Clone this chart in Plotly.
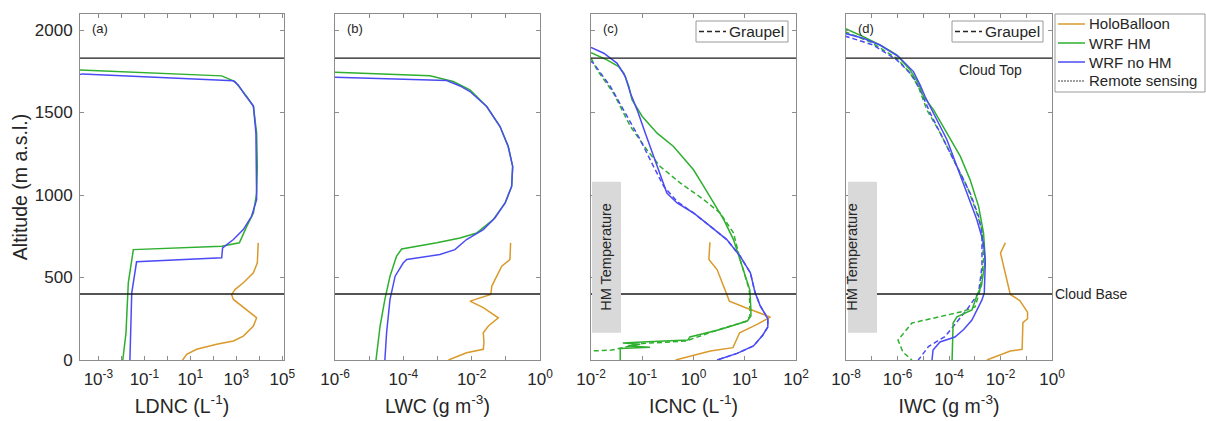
import numpy as np
import plotly.graph_objects as go

W, H = 1206, 421
FONT = "Liberation Sans, Arial, sans-serif"

# ---------------- data (log10 of quantity, altitude in m a.s.l.) ----------------
# Panel (a) LDNC (L^-1)
a_holo_alt = [710, 589, 528, 468, 427, 397, 367, 306, 256, 206, 145, 115, 95, 65, 34, 0]
a_holo_log = [3.95, 3.91, 3.74, 3.30, 2.94, 2.79, 2.87, 3.45, 3.88, 3.74, 3.30, 2.87, 2.14, 1.27, 0.84, 0.66]
a_hm_alt = [1758, 1722, 1687, 1597, 1536, 1375, 1173, 1012, 891, 810, 710, 690, 669, 468, 165, 0]
a_hm_log = [-3.85, 2.36, 2.94, 3.45, 3.74, 3.88, 3.91, 3.88, 3.74, 3.45, 3.13, 2.36, -1.48, -1.70, -1.80, -1.94]
a_nohm_alt = [1728, 1734, 1692, 1667, 1607, 1540, 1375, 1173, 972, 871, 790, 730, 679, 619, 595, 407, 165, 0]
a_nohm_log = [-3.85, -3.70, 2.87, 3.08, 3.37, 3.74, 3.85, 3.88, 3.88, 3.66, 3.30, 2.87, 2.40, 2.36, -1.34, -1.55, -1.60, -1.63]

# Panel (b) LWC (g m^-3)
b_holo_alt = [710, 609, 569, 508, 448, 397, 357, 317, 256, 206, 165, 105, 65, 44, 0]
b_holo_log = [-0.86, -0.88, -1.12, -1.27, -1.41, -1.44, -2.05, -1.66, -1.22, -1.51, -1.66, -1.64, -1.66, -2.15, -2.68]
b_hm_alt = [1744, 1722, 1688, 1637, 1536, 1415, 1294, 1173, 1052, 952, 851, 770, 740, 710, 673, 629, 508, 367, 206, 0]
b_hm_log = [-6.05, -3.22, -2.54, -2.05, -1.56, -1.17, -0.93, -0.80, -0.83, -1.02, -1.37, -1.85, -2.34, -3.02, -4.05, -4.20, -4.39, -4.54, -4.68, -4.80]
b_nohm_alt = [1714, 1694, 1661, 1627, 1536, 1415, 1294, 1173, 1052, 952, 861, 790, 730, 669, 639, 609, 589, 508, 367, 165, 0]
b_nohm_log = [-6.05, -2.73, -2.34, -2.05, -1.56, -1.17, -0.93, -0.80, -0.83, -1.02, -1.32, -1.66, -2.15, -2.49, -2.93, -3.90, -4.00, -4.24, -4.39, -4.49, -4.54]

# Panel (c) ICNC (L^-1)
c_holo_alt = [714, 609, 548, 468, 407, 357, 317, 260, 216, 165, 75, 54, 0]
c_holo_log = [0.32, 0.30, 0.46, 0.56, 0.65, 0.70, 1.02, 1.50, 1.24, 0.90, 0.77, 0.33, -0.35]
c_hm_alt = [1863, 1819, 1778, 1738, 1657, 1577, 1476, 1375, 1294, 1153, 1052, 952, 851, 730, 609, 508, 424, 303,
            266, 236, 185, 140, 121, 110, 103, 95, 85, 78, 70, 60, 30, 0]
c_hm_log = [-2.0, -1.69, -1.46, -1.36, -1.26, -1.20, -1.00, -0.71, -0.39, 0.00, 0.20, 0.39, 0.59, 0.78, 0.91, 1.01, 1.10, 1.12,
            1.12, 1.05, 0.52, -0.07, -0.11, -0.90, -1.38, -1.04, -1.28, -0.85, -1.43, -1.43, -1.43, -1.43]
c_hm_g_alt = [1829, 1758, 1617, 1415, 1274, 1173, 1073, 972, 891, 770, 609, 508, 424, 303, 266, 236, 185, 115, 100, 80, 60, 54]
c_hm_g_log = [-2.0, -1.88, -1.56, -1.23, -0.91, -0.65, -0.26, 0.20, 0.52, 0.78, 0.91, 1.01, 1.09, 1.10, 1.10, 1.04, 0.50, -0.15, -1.00, -1.30, -1.60, -2.05]
c_nohm_alt = [1895, 1859, 1798, 1718, 1617, 1516, 1375, 1173, 1012, 952, 891, 810, 730, 629, 528, 410, 330, 250, 200, 150, 85, 40, 0]
c_nohm_log = [-2.0, -1.75, -1.49, -1.33, -1.23, -1.10, -0.94, -0.71, -0.52, -0.32, 0.00, 0.33, 0.65, 0.91, 1.11, 1.20, 1.30, 1.45, 1.45, 1.35, 1.17, 0.85, 0.46]
c_nohm_g_alt = [1815, 1798, 1657, 1476, 1335, 1173, 1052, 960, 891, 810, 730, 629, 528, 410, 330, 250, 200, 150, 85, 40, 0]
c_nohm_g_log = [-2.02, -1.95, -1.62, -1.30, -1.04, -0.78, -0.58, -0.32, 0.00, 0.33, 0.65, 0.91, 1.11, 1.20, 1.30, 1.45, 1.45, 1.35, 1.17, 0.85, 0.46]

# Panel (d) IWC (g m^-3)
d_holo_alt = [710, 649, 569, 488, 397, 360, 290, 250, 226, 65, 54, 0]
d_holo_log = [-1.81, -2.00, -1.88, -1.75, -1.62, -1.25, -0.95, -0.95, -1.13, -1.16, -1.62, -2.53]
d_hm_alt = [2010, 1960, 1909, 1849, 1758, 1677, 1597, 1516, 1375, 1234, 1093, 931, 770, 609, 450, 394, 303, 261, 224, 0]
d_hm_log = [-8.05, -7.33, -6.68, -6.03, -5.51, -5.19, -4.99, -4.60, -4.08, -3.56, -3.18, -2.85, -2.66, -2.59, -2.74, -2.91, -3.11, -3.69, -3.84, -3.88]
d_hm_g_alt = [1990, 1929, 1829, 1738, 1657, 1516, 1375, 1214, 1052, 891, 790, 609, 427, 321, 293, 224, 165, 121, 48, 0]
d_hm_g_log = [-8.05, -7.07, -6.03, -5.51, -5.19, -4.86, -4.34, -3.82, -3.30, -2.92, -2.72, -2.66, -2.79, -2.99, -3.50, -5.44, -5.77, -5.98, -5.79, -5.44]
d_nohm_alt = [1980, 1950, 1909, 1839, 1748, 1667, 1597, 1496, 1335, 1173, 1012, 851, 710, 589, 407, 364, 242, 185, 139, 109, 61, 0]
d_nohm_log = [-8.05, -7.33, -6.68, -5.96, -5.38, -5.12, -4.93, -4.60, -4.08, -3.69, -3.30, -2.92, -2.66, -2.59, -2.63, -2.72, -3.11, -3.43, -3.77, -4.35, -4.62, -4.66]
d_nohm_g_alt = [1964, 1909, 1819, 1728, 1637, 1496, 1335, 1173, 1012, 871, 770, 569, 407, 306, 230, 141, 110, 81, 12, 0]
d_nohm_g_log = [-8.05, -6.94, -6.03, -5.44, -5.12, -4.73, -4.21, -3.69, -3.18, -2.85, -2.72, -2.72, -2.85, -3.30, -3.70, -4.16, -4.50, -4.80, -5.13, -5.20]

CLOUD_TOP = 1830
CLOUD_BASE = 400
HM_TOP = 1080
HM_BOTTOM = 165

panel_labels = ["(a)", "(b)", "(c)", "(d)"]
x_titles = ["LDNC (L<sup>-1</sup>)", "LWC (g m<sup>-3</sup>)", "ICNC (L<sup>-1</sup>)", "IWC (g m<sup>-3</sup>)"]
x_decades = [list(range(-3, 6)), list(range(-6, 1)), list(range(-2, 3)), list(range(-8, 1))]
x_labelled = [[-3, -1, 1, 3, 5], [-6, -4, -2, 0], [-2, -1, 0, 1, 2], [-8, -6, -4, -2, 0]]
x_ranges = [[-3.8, 5.07], [-6, 0], [-2, 2], [-8, 0]]
y_ticks = [0, 500, 1000, 1500, 2000]

legend_names = ["HoloBalloon", "WRF HM", "WRF no HM", "Remote sensing"]

C_HOLO = "#D99A2B"
C_HM = "#2EAF2E"
C_NOHM = "#4B4BF5"
C_TXT = "#262626"
legend_colors = [C_HOLO, C_HM, C_NOHM, "#444444"]
legend_dash = ["solid", "solid", "solid", "dot"]

# ---------------- layout geometry (pixels) ----------------
panel_px = [(80, 284), (335, 540), (591, 796), (846, 1052)]
top_px, bot_px = 14, 360


def px(x):
    return x / W


def py(y):
    return 1 - y / H


fig = go.Figure()

series = [
    [(a_holo_log, a_holo_alt, C_HOLO, "solid", "HoloBalloon"), (a_hm_log, a_hm_alt, C_HM, "solid", "WRF HM"),
     (a_nohm_log, a_nohm_alt, C_NOHM, "solid", "WRF no HM")],
    [(b_holo_log, b_holo_alt, C_HOLO, "solid", "HoloBalloon"), (b_hm_log, b_hm_alt, C_HM, "solid", "WRF HM"),
     (b_nohm_log, b_nohm_alt, C_NOHM, "solid", "WRF no HM")],
    [(c_hm_g_log, c_hm_g_alt, C_HM, "dash", "WRF HM graupel"), (c_nohm_g_log, c_nohm_g_alt, C_NOHM, "dash", "WRF no HM graupel"),
     (c_holo_log, c_holo_alt, C_HOLO, "solid", "HoloBalloon"), (c_hm_log, c_hm_alt, C_HM, "solid", "WRF HM"),
     (c_nohm_log, c_nohm_alt, C_NOHM, "solid", "WRF no HM")],
    [(d_hm_g_log, d_hm_g_alt, C_HM, "dash", "WRF HM graupel"), (d_nohm_g_log, d_nohm_g_alt, C_NOHM, "dash", "WRF no HM graupel"),
     (d_holo_log, d_holo_alt, C_HOLO, "solid", "HoloBalloon"), (d_hm_log, d_hm_alt, C_HM, "solid", "WRF HM"),
     (d_nohm_log, d_nohm_alt, C_NOHM, "solid", "WRF no HM")],
]

for i, plist in enumerate(series):
    xa = "x" if i == 0 else f"x{i+1}"
    ya = "y" if i == 0 else f"y{i+1}"
    for lg, alt, col, dash, nm in plist:
        fig.add_trace(go.Scatter(
            x=10 ** np.array(lg, dtype=float), y=alt, mode="lines", name=nm,
            line=dict(color=col, width=1.5, dash=("5px,3px" if dash == "dash" else dash)),
            xaxis=xa, yaxis=ya, showlegend=False, hoverinfo="skip"))

tickfont = dict(family=FONT, size=17, color=C_TXT)
titlefont = dict(family=FONT, size=19.5, color=C_TXT)
axcol = "#8c8c8c"

layout = dict(width=W, height=H, margin=dict(l=0, r=0, t=0, b=0),
              paper_bgcolor="white", plot_bgcolor="white", showlegend=False,
              font=dict(family=FONT, color=C_TXT))

for i in range(4):
    sx = "" if i == 0 else str(i + 1)
    x0, x1 = panel_px[i]
    tv = [10.0 ** d for d in x_labelled[i]]
    tt = [f"10<sup>{d}</sup>" for d in x_labelled[i]]
    minor_tv = [10.0 ** d for d in x_decades[i]]
    layout["xaxis" + sx] = dict(
        type="log", range=x_ranges[i], domain=[px(x0), px(x1)], anchor="y" + sx,
        showline=True, mirror="ticks", linecolor=axcol, linewidth=1,
        ticks="inside", ticklen=4, tickcolor=axcol, tickvals=tv, ticktext=tt,
        minor=dict(ticks="inside", ticklen=4, tickcolor=axcol, tickvals=minor_tv, showgrid=False),
        tickfont=tickfont, showgrid=False, zeroline=False, automargin=False,
        ticklabelstandoff=4,
        title=dict(text=x_titles[i], font=titlefont, standoff=10))
    ydict = dict(
        range=[0, 2097], domain=[py(bot_px), py(top_px)], anchor="x" + sx,
        showline=True, mirror="ticks", linecolor=axcol, linewidth=1,
        ticks="inside", ticklen=4, tickcolor=axcol, tickvals=y_ticks,
        showticklabels=(i == 0), tickfont=tickfont, showgrid=False, zeroline=False,
        automargin=False)
    if i == 0:
        ydict["title"] = dict(text="Altitude (m a.s.l.)", font=titlefont, standoff=1)
        ydict["ticklabelstandoff"] = 3
    layout["yaxis" + sx] = ydict

shapes = []
annotations = []
for i in range(4):
    sx = "" if i == 0 else str(i + 1)
    for yv in (CLOUD_TOP, CLOUD_BASE):
        shapes.append(dict(type="line", xref=f"x{sx} domain", yref=f"y{sx}", x0=0, x1=1, y0=yv, y1=yv,
                           line=dict(color="#1a1a1a", width=1.3), layer="above"))
    annotations.append(dict(text=panel_labels[i], xref="paper", yref="paper",
                            x=px(panel_px[i][0] + 10), y=py(28), xanchor="left", yanchor="middle",
                            showarrow=False, font=dict(family=FONT, size=13, color=C_TXT)))

# HM temperature boxes and Graupel keys for (c) and (d)
hm_boxes = {3: (592, 621, 696, 788), 4: (848, 877, 952, 1043)}
for k, (bx0, bx1, gx0, gx1) in hm_boxes.items():
    shapes.append(dict(type="rect", xref="paper", yref=f"y{k}", x0=px(bx0), x1=px(bx1),
                       y0=HM_BOTTOM, y1=HM_TOP, fillcolor="#d9d9d9", line=dict(width=0), layer="above"))
    annotations.append(dict(text="HM Temperature", xref="paper", yref=f"y{k}",
                            x=px((bx0 + bx1) / 2), y=(HM_BOTTOM + HM_TOP) / 2, textangle=-90,
                            showarrow=False, font=dict(family=FONT, size=14.5, color=C_TXT)))
    shapes.append(dict(type="rect", xref="paper", yref="paper", x0=px(gx0), x1=px(gx1),
                       y0=py(42), y1=py(21), fillcolor="white", line=dict(color="#9a9a9a", width=1),
                       layer="above"))
    shapes.append(dict(type="line", xref="paper", yref="paper", x0=px(gx0 + 3), x1=px(gx0 + 30),
                       y0=py(31.5), y1=py(31.5), line=dict(color=C_TXT, width=1.3, dash="5px,3px"),
                       layer="above"))
    annotations.append(dict(text="Graupel", xref="paper", yref="paper", x=px(gx0 + 31), y=py(31.5),
                            xanchor="left", yanchor="middle", showarrow=False,
                            font=dict(family=FONT, size=15.5, color=C_TXT)))

annotations.append(dict(text="Cloud Top", xref="paper", yref="y4", x=px(990), y=1758,
                        xanchor="center", yanchor="middle", showarrow=False,
                        font=dict(family=FONT, size=14, color=C_TXT)))
annotations.append(dict(text="Cloud Base", xref="paper", yref="y4", x=px(1053), y=CLOUD_BASE,
                        xanchor="left", yanchor="middle", showarrow=False,
                        font=dict(family=FONT, size=14, color=C_TXT)))

# Legend (drawn as a keyed box, 19 px per row)
shapes.append(dict(type="rect", xref="paper", yref="paper", x0=px(1055), x1=px(1205),
                   y0=py(92), y1=py(14), fillcolor="white", line=dict(color="#9a9a9a", width=1),
                   layer="above"))
for j, (nm, col, dsh) in enumerate(zip(legend_names, legend_colors, legend_dash)):
    yc = 24 + 19 * j
    shapes.append(dict(type="line", xref="paper", yref="paper", x0=px(1058), x1=px(1085),
                       y0=py(yc), y1=py(yc),
                       line=dict(color=col, width=1.5 if dsh == "solid" else 1.2,
                                 dash=("2px,1px" if dsh == "dot" else dsh)),
                       layer="above"))
    annotations.append(dict(text=nm, xref="paper", yref="paper", x=px(1087), y=py(yc),
                            xanchor="left", yanchor="middle", showarrow=False,
                            font=dict(family=FONT, size=15, color=C_TXT)))

layout["shapes"] = shapes
layout["annotations"] = annotations
fig.update_layout(**layout)
fig.write_html("out.html")
